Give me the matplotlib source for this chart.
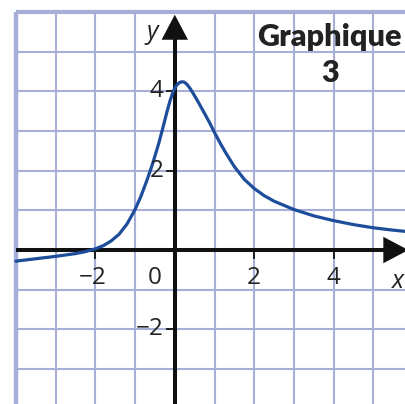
import matplotlib
matplotlib.use("Agg")
import matplotlib.pyplot as plt
from matplotlib.patches import FancyArrowPatch

# ---- data ----
curve_x = [-4.0, -3.5, -3.0, -2.5, -2.25, -2.0, -1.8, -1.6, -1.4, -1.2, -1.0,
           -0.85, -0.7, -0.55, -0.4, -0.3, -0.2, -0.12, -0.05, 0.0, 0.06,
           0.12, 0.18, 0.24, 0.3, 0.38, 0.46, 0.55, 0.65, 0.75, 0.88,
           1.0, 1.15, 1.3, 1.5, 1.75, 2.0, 2.25, 2.5, 3.0, 3.5, 4.0, 4.5,
           5.0, 5.5, 5.9]
curve_y = [-0.28, -0.22, -0.16, -0.09, -0.04, 0.03, 0.11, 0.23, 0.4, 0.66, 1.02,
           1.36, 1.76, 2.2, 2.7, 3.08, 3.47, 3.76, 3.97, 4.08, 4.17,
           4.22, 4.24, 4.23, 4.18, 4.08, 3.95, 3.8, 3.62, 3.44, 3.2,
           2.96, 2.68, 2.42, 2.1, 1.78, 1.55, 1.37, 1.23, 1.02, 0.86, 0.74, 0.64,
           0.56, 0.5, 0.46]

x_ticks = [-2, 2, 4]
x_tick_labels = ["\u22122", "2", "4"]
y_ticks = [-2, 2, 4]
y_tick_labels = ["\u22122", "2", "4"]
grid_x = [-4, -3, -2, -1, 1, 2, 3, 4, 5]
grid_y = [-3, -2, -1, 1, 2, 3, 4, 5, 6]
title_lines = ["Graphique", "3"]

# ---- figure ----
fig = plt.figure(figsize=(4.06, 4.04), dpi=100)
ax = fig.add_axes([0, 0, 1, 1])
xmin, xmax = -4.40, 5.82
ymin, ymax = -3.88, 6.30
ax.set_xlim(xmin, xmax)
ax.set_ylim(ymin, ymax)
ax.axis("off")

grid_color = "#a7afd8"
for gx in grid_x:
    ax.plot([gx, gx], [ymin, 6], color=grid_color,
            lw=3.2 if gx == -4 else 1.5, zorder=1, solid_capstyle="butt")
for gy in grid_y:
    ax.plot([-4, xmax], [gy, gy], color=grid_color,
            lw=3.0 if gy == 6 else 1.5, zorder=1, solid_capstyle="butt")

# axes with arrows
ax.plot([-4, 5.5], [0, 0], color="#111111", lw=2.9, zorder=3, solid_capstyle="butt")
ax.plot([0, 0], [ymin, 5.6], color="#111111", lw=2.9, zorder=3, solid_capstyle="butt")
ax.add_patch(FancyArrowPatch((5.3, 0), (5.95, 0),
                             arrowstyle="-|>,head_length=0.95,head_width=0.5",
                             mutation_scale=19, color="#111111", lw=0, zorder=4))
ax.add_patch(FancyArrowPatch((0, 5.3), (0, 6.0),
                             arrowstyle="-|>,head_length=0.95,head_width=0.5",
                             mutation_scale=19, color="#111111", lw=0, zorder=4))

# tick marks
for t in x_ticks:
    ax.plot([t, t], [0, -0.2], color="#111111", lw=1.3, zorder=3)
for t in y_ticks:
    ax.plot([0, -0.2], [t, t], color="#111111", lw=1.3, zorder=3)

# curve
ax.plot(curve_x, curve_y, color="#1d4d9b", lw=2.3, zorder=5,
        solid_joinstyle="round", solid_capstyle="round")

font = "Open Sans"
fs = 17.5
for t, lab in zip(x_ticks, x_tick_labels):
    ax.text(t - (0.07 if t < 0 else 0), -0.7, lab, ha="center", va="center",
            fontsize=fs, family=font, color="#222222", zorder=6)
ax.text(-0.5, -0.7, "0", ha="center", va="center", fontsize=fs,
        family=font, color="#222222", zorder=6)
for t, lab in zip(y_ticks, y_tick_labels):
    ax.text(-0.28, t, lab, ha="right", va="center", fontsize=fs,
            family=font, color="#222222", zorder=6)

ax.text(-0.58, 5.47, "y", ha="center", va="center", fontsize=18,
        style="italic", family=font, color="#222222", zorder=6)
ax.text(5.62, -0.8, "x", ha="center", va="center", fontsize=18,
        style="italic", family=font, color="#222222", zorder=6)

ax.text(3.88, 5.36, title_lines[0], ha="center", va="center", fontsize=22,
        fontweight="heavy", family="Lato", color="#222222", zorder=6)
ax.text(3.92, 4.45, title_lines[1], ha="center", va="center", fontsize=22,
        fontweight="heavy", family="Lato", color="#222222", zorder=6)

fig.savefig("out.png", dpi=100, facecolor="white")
